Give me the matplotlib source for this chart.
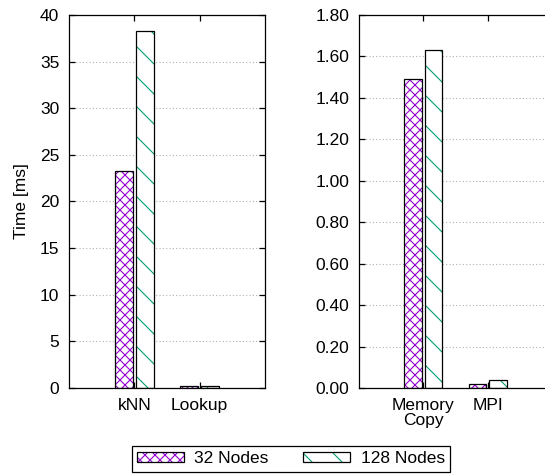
import numpy as np
import matplotlib
matplotlib.use('Agg')
import matplotlib.pyplot as plt
from matplotlib.patches import Patch
from matplotlib.ticker import FormatStrFormatter

""" --- timing data ---- """
left_labels = ['kNN', 'Lookup']
left_32 = [23.25, 0.25]
left_128 = [38.3, 0.22]

right_labels = ['Memory\nCopy', 'MPI']
right_32 = [1.49, 0.02]
right_128 = [1.63, 0.04]

series_names = ['32 Nodes', '128 Nodes']
""" -------------------- """

# lower dpi makes the hatch pattern tighter; k rescales point sizes
dpi = 90
k = 100 / dpi

plt.rcParams['font.family'] = ['Liberation Sans', 'DejaVu Sans']
plt.rcParams['font.size'] = 12.5 * k
plt.rcParams['hatch.linewidth'] = 0.8 * k

purple = '#9400d3'
green = '#009e73'
width = 0.27
offs = 0.162
lw = 0.9 * k

fig = plt.figure(figsize=(545 / dpi, 475 / dpi), dpi=dpi)
ax1 = fig.add_axes([0.1266, 0.1832, 0.3596, 0.7853])
ax2 = fig.add_axes([0.6587, 0.1832, 0.3541, 0.7853])


def draw_bars(ax, labels, v32, v128):
    x = np.arange(1, len(labels) + 1)
    # hatched fill first, black outline on top
    ax.bar(x - offs, v32, width, color='white', edgecolor=purple, hatch='xxx', lw=0, zorder=2)
    ax.bar(x + offs, v128, width, color='white', edgecolor=green, hatch='\\', lw=0, zorder=2)
    ax.bar(x - offs, v32, width, facecolor='none', edgecolor='black', lw=lw, zorder=3)
    ax.bar(x + offs, v128, width, facecolor='none', edgecolor='black', lw=lw, zorder=3)
    ax.set_xlim(0, 3)
    ax.set_xticks(x)
    ax.set_xticklabels(labels, linespacing=1.0)
    ax.tick_params(direction='in', top=True, right=True, length=4 * k, width=lw, pad=7 * k)
    ax.grid(axis='y', color='#b0b0b0', linestyle=(0, (1, 2)), lw=0.8 * k, zorder=0)
    ax.set_axisbelow(True)
    for s in ax.spines.values():
        s.set_linewidth(lw)


draw_bars(ax1, left_labels, left_32, left_128)
ax1.set_ylim(0, 40)
ax1.set_yticks(np.arange(0, 41, 5))
ax1.set_ylabel('Time [ms]')
ax1.yaxis.set_label_coords(-0.205, 0.5)

draw_bars(ax2, right_labels, right_32, right_128)
ax2.set_ylim(0, 1.8)
ax2.set_yticks(np.arange(0, 1.81, 0.2))
ax2.yaxis.set_major_formatter(FormatStrFormatter('%.2f'))

# legend: hatch patch with a black frame laid over it
h32 = (Patch(facecolor='white', edgecolor=purple, hatch='xxx', lw=0),
       Patch(facecolor='none', edgecolor='black', lw=lw))
h128 = (Patch(facecolor='white', edgecolor=green, hatch='\\', lw=0),
        Patch(facecolor='none', edgecolor='black', lw=lw))
leg = fig.legend([h32, h128], series_names, loc='center left', bbox_to_anchor=(0.242, 0.034),
                 ncol=2, fancybox=False, edgecolor='black', framealpha=1,
                 handlelength=2.7, handleheight=0.5, columnspacing=2.0,
                 borderpad=0.3, handletextpad=0.6, borderaxespad=0)
leg.get_frame().set_linewidth(lw)

fig.savefig('out.png', dpi=dpi)
